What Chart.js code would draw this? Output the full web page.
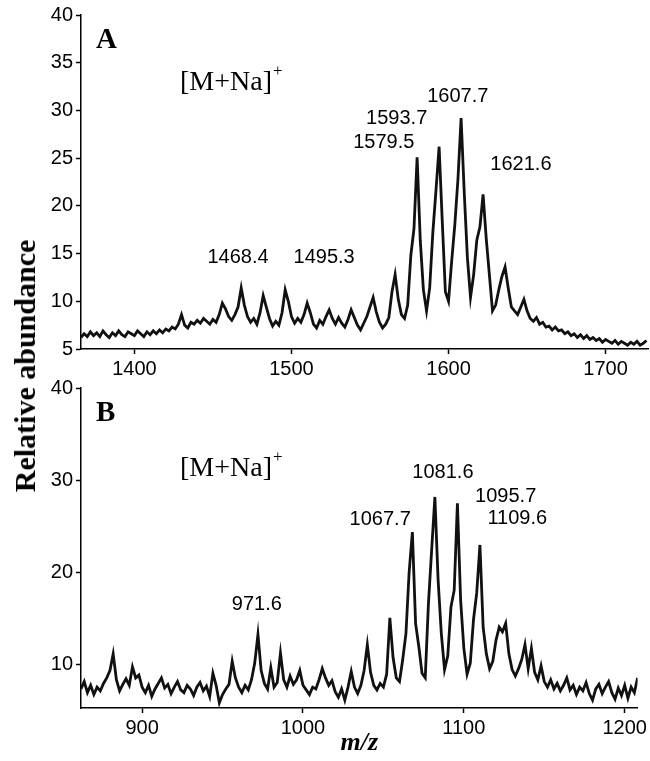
<!DOCTYPE html>
<html>
<head>
<meta charset="utf-8">
<script src="https://cdn.jsdelivr.net/npm/chart.js@4.4.1/dist/chart.umd.min.js"></script>
<style>
  html, body { margin: 0; padding: 0; background: #fff; }
  #wrap { position: relative; width: 650px; height: 761px; overflow: hidden; }
  #chartA { position: absolute; left: 0; top: 0; }
  #chartB { position: absolute; left: 0; top: 370px; }
  #ytitle {
    position: absolute; left: 25px; top: 366px;
    transform: translate(-50%, -50%) rotate(-90deg);
    font: bold 30px "Liberation Serif", "Times New Roman", serif;
    white-space: nowrap; color: #000;
  }
</style>
</head>
<body>
<div id="wrap">
  <canvas id="chartA" width="650" height="380"></canvas>
  <canvas id="chartB" width="650" height="391"></canvas>
  <div id="ytitle">Relative abundance</div>
</div>
<script>
'use strict';

// ---- panel A : m/z sampled every 2 from 1366 ----
var mzStartA = 1366;
var mzStepA = 2;
var intensityA = [
    6.2, 6.6, 6.3, 6.8, 6.4, 6.7, 6.3, 6.9, 6.5, 6.2,
    6.7, 6.4, 6.9, 6.5, 6.3, 6.8, 6.6, 6.4, 6.9, 6.6,
    6.3, 6.8, 6.5, 6.9, 6.6, 7.0, 6.7, 7.1, 6.9, 7.3,
    7.1, 7.6, 8.6, 7.5, 7.2, 7.8, 7.6, 8.0, 7.7, 8.2,
    7.9, 7.6, 8.1, 7.8, 8.6, 9.8, 9.2, 8.4, 8.0, 8.6,
    9.4, 11.4, 9.6, 8.4, 7.8, 8.2, 7.6, 8.8, 10.6, 9.4,
    8.2, 7.4, 7.9, 7.5, 8.8, 11.2, 10.0, 8.4, 7.7, 8.2,
    7.8, 8.6, 9.8, 8.8, 7.6, 7.2, 8.0, 7.6, 8.4, 9.1,
    8.2, 7.6, 8.3, 7.7, 7.3, 8.1, 9.1, 8.3, 7.5, 7.0,
    7.7, 8.4, 9.4, 10.4, 8.9, 7.8, 7.2, 7.6, 8.3, 11.0,
    12.8, 10.2, 8.6, 8.2, 9.6, 14.8, 17.6, 25.1, 16.4, 11.2,
    9.0, 11.4, 17.2, 21.6, 26.2, 18.4, 11.0, 10.0, 14.2, 18.0,
    22.8, 29.2, 21.4, 14.6, 10.4, 12.8, 16.4, 17.8, 21.2, 16.6,
    12.8, 9.0, 9.6, 11.2, 12.6, 13.6, 11.4, 9.4, 9.0, 8.6,
    9.4, 10.2, 9.0, 8.2, 7.9, 8.3, 7.6, 7.8, 7.3, 7.4,
    7.0, 7.3, 6.9, 7.0, 6.6, 6.8, 6.4, 6.6, 6.2, 6.5,
    6.1, 6.4, 6.0, 6.2, 5.9, 6.1, 5.7, 6.0, 5.8, 5.6,
    5.9, 5.5, 5.8, 5.6, 5.4, 5.7, 5.5, 5.8, 5.4, 5.6,
    5.9
];
var xTicksA = [1400, 1500, 1600, 1700];
var yTicksA = [5, 10, 15, 20, 25, 30, 35, 40];
var peakTextA = ['1468.4', '1495.3', '1579.5', '1593.7', '1607.7', '1621.6'];
var peakTextXA = [1466.0, 1520.8, 1558.8, 1567.0, 1605.9, 1646.1];
var peakTextYA = [14.6, 14.6, 26.6, 29.2, 31.5, 24.3];

// ---- panel B : m/z sampled every 2 from 862 ----
var mzStartB = 862;
var mzStepB = 2;
var intensityB = [
    7.4, 8.2, 7.0, 7.8, 6.8, 7.6, 7.2, 8.0, 8.6, 9.4,
    11.2, 8.4, 7.2, 7.9, 8.5, 7.8, 9.8, 8.6, 8.9, 7.6,
    7.0, 7.8, 6.6, 7.4, 8.0, 8.6, 7.5, 7.9, 6.9, 7.6,
    8.2, 7.3, 7.0, 7.8, 7.4, 6.7, 7.6, 8.1, 7.2, 7.7,
    6.6, 9.1, 7.8, 5.9, 6.8, 7.4, 7.9, 10.4, 8.6, 7.6,
    7.0, 7.8, 7.3, 8.4, 10.2, 13.3, 9.4, 8.0, 7.4, 9.7,
    7.6, 8.1, 11.3, 8.4, 7.6, 8.8, 7.9, 8.4, 9.4, 7.8,
    7.3, 6.8, 7.6, 7.4, 8.4, 9.6, 8.6, 7.8, 8.3, 7.1,
    6.5, 7.4, 6.2, 7.6, 9.3, 7.6, 6.9, 7.8, 9.4, 12.2,
    9.2, 7.8, 7.3, 8.0, 7.6, 9.0, 15.1, 10.8, 8.6, 8.2,
    10.6, 13.4, 20.1, 24.4, 14.5, 12.0, 9.1, 8.6, 16.7, 22.5,
    28.2, 19.2, 13.4, 9.5, 11.0, 16.3, 18.1, 27.5, 17.0, 11.8,
    9.0, 10.2, 14.9, 17.8, 23.0, 14.1, 11.2, 9.6, 10.4, 12.7,
    14.1, 13.6, 14.5, 11.2, 9.5, 8.8, 9.6, 10.6, 12.2, 9.6,
    11.8, 9.2, 8.4, 9.9, 8.2, 7.6, 8.4, 7.4, 8.0, 7.2,
    7.8, 8.6, 7.3, 7.8, 6.8, 7.6, 7.2, 8.1, 6.9, 6.2,
    7.4, 7.9, 6.9, 7.6, 8.2, 7.0, 6.3, 7.5, 6.7, 7.8,
    6.4, 7.6, 7.0, 8.6
];
var xTicksB = [900, 1000, 1100, 1200];
var yTicksB = [10, 20, 30, 40];
var peakTextB = ['971.6', '1067.7', '1081.6', '1095.7', '1109.6'];
var peakTextXB = [971.3, 1048.0, 1087.0, 1126.0, 1133.2];
var peakTextYB = [16.5, 25.8, 30.8, 28.3, 25.9];

var sansFont = '"Liberation Sans", Arial, Helvetica, sans-serif';
var serifFont = '"Liberation Serif", "Times New Roman", serif';

function toPoints(start, step, values) {
    var pts = [];
    for (var i = 0; i < values.length; i++) {
        pts.push({x: start + i * step, y: values[i]});
    }
    return pts;
}

// peak labels, panel letter and the ion formula
var panelText = {
    id: 'panelText',
    afterDatasetsDraw: function (chart, args, opts) {
        var ctx = chart.ctx;
        var xs = chart.scales.x, ys = chart.scales.y, area = chart.chartArea;
        ctx.save();
        ctx.fillStyle = '#000';
        ctx.textBaseline = 'middle';
        ctx.textAlign = 'center';
        ctx.font = '20px ' + sansFont;
        for (var i = 0; i < opts.labels.length; i++) {
            ctx.fillText(opts.labels[i], xs.getPixelForValue(opts.labelX[i]), ys.getPixelForValue(opts.labelY[i]));
        }
        ctx.textAlign = 'left';
        ctx.font = 'bold 29px ' + serifFont;
        ctx.fillText(opts.letter, area.left + 15, area.top + 26);
        ctx.font = '28px ' + serifFont;
        var x0 = area.left + 99, y0 = area.top + opts.ionDy;
        ctx.fillText('[M+Na]', x0, y0);
        var w = ctx.measureText('[M+Na]').width;
        ctx.font = '17px ' + serifFont;
        ctx.fillText('+', x0 + w + 1, y0 - 11);
        ctx.restore();
    }
};

function makeChart(canvasId, points, xMin, xMax, xTicks, yMin, yMax, yTicks, padTop, xHeight, showTitle, textOpts) {
    var ctx = document.getElementById(canvasId);
    return new Chart(ctx, {
        type: 'line',
        data: {
            datasets: [{
                data: points,
                borderColor: '#111',
                borderWidth: 2.8,
                pointRadius: 0,
                tension: 0,
                fill: false
            }]
        },
        options: {
            responsive: false,
            animation: false,
            layout: {padding: {top: padTop, right: 2, left: 0, bottom: 0}},
            plugins: {
                legend: {display: false},
                tooltip: {enabled: false},
                panelText: textOpts
            },
            scales: {
                x: {
                    type: 'linear',
                    min: xMin,
                    max: xMax,
                    afterBuildTicks: function (scale) {
                        scale.ticks = xTicks.map(function (v) { return {value: v}; });
                    },
                    afterFit: function (scale) { scale.height = xHeight; },
                    grid: {drawOnChartArea: false, drawTicks: true, tickLength: 5, tickColor: '#000', tickWidth: 1.5},
                    border: {display: true, color: '#000', width: 1.5},
                    ticks: {
                        color: '#000', padding: 3, maxRotation: 0,
                        font: {family: sansFont, size: 20},
                        callback: function (v) { return String(v); }
                    },
                    title: {
                        display: showTitle,
                        text: 'm/z',
                        color: '#000',
                        padding: {top: 0, bottom: 2},
                        font: {family: serifFont, size: 26, weight: 'bold', style: 'italic'}
                    }
                },
                y: {
                    min: yMin,
                    max: yMax,
                    afterBuildTicks: function (scale) {
                        scale.ticks = yTicks.map(function (v) { return {value: v}; });
                    },
                    afterFit: function (scale) { scale.width = 81; },
                    grid: {drawOnChartArea: false, drawTicks: true, tickLength: 5, tickColor: '#000', tickWidth: 1.5},
                    border: {display: true, color: '#000', width: 1.5},
                    ticks: {
                        color: '#000', padding: 3,
                        font: {family: sansFont, size: 20},
                        callback: function (v) { return String(v); }
                    }
                }
            }
        },
        plugins: [panelText]
    });
}

makeChart('chartA', toPoints(mzStartA, mzStepA, intensityA), 1366, 1727, xTicksA, 5, 40, yTicksA, 15, 31, false,
    {labels: peakTextA, labelX: peakTextXA, labelY: peakTextYA, letter: 'A', ionDy: 68});

makeChart('chartB', toPoints(mzStartB, mzStepB, intensityB), 862, 1208, xTicksB, 5.34, 40, yTicksB, 18, 53, true,
    {labels: peakTextB, labelX: peakTextXB, labelY: peakTextYB, letter: 'B', ionDy: 81});
</script>
</body>
</html>
